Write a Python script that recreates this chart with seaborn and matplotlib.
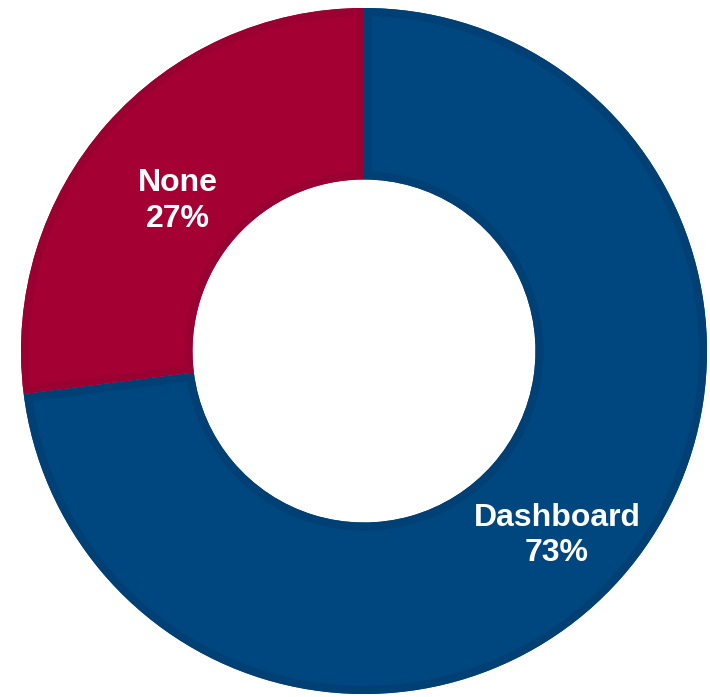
import matplotlib
matplotlib.use("Agg")
import matplotlib.pyplot as plt
from matplotlib.patches import PathPatch
import seaborn as sns

sns.set_style("white")
plt.rcParams["font.family"] = ["Liberation Sans", "DejaVu Sans"]

categories = ["Dashboard", "None"]
shares = [73, 27]
fill_colors = ["#00467F", "#A50034"]
border_colors = ["#004075", "#9A0031"]
label_pos = [(0.563, -0.538), (-0.542, 0.438)]

fig = plt.figure(figsize=(7.10, 6.97), dpi=100)
ax = fig.add_axes([0, 0, 1, 1])

wedges, _ = ax.pie(
    shares,
    startangle=90,
    counterclock=False,
    colors=fill_colors,
    radius=1.0,
    wedgeprops=dict(width=0.5, linewidth=0),
)

# darker inner rim on each segment: a thick outline clipped to the segment's own shape
for w, ec in zip(wedges, border_colors):
    rim = PathPatch(w.get_path(), transform=w.get_transform(),
                    facecolor="none", edgecolor=ec, linewidth=11.5, zorder=w.get_zorder() + 0.1)
    ax.add_patch(rim)
    rim.set_clip_path(w.get_path(), w.get_transform())

for cat, val, (x, y) in zip(categories, shares, label_pos):
    ax.text(x, y, f"{cat}\n{val}%", ha="center", va="center",
            color="white", fontsize=23, fontweight="bold", linespacing=1.25, zorder=5)

scale = 343.0
ax.set_xlim(-364 / scale, (710 - 364) / scale)
ax.set_ylim(-(697 - 351) / scale, 351 / scale)
ax.set_aspect("auto")
ax.axis("off")

fig.savefig("out.png", dpi=100)
